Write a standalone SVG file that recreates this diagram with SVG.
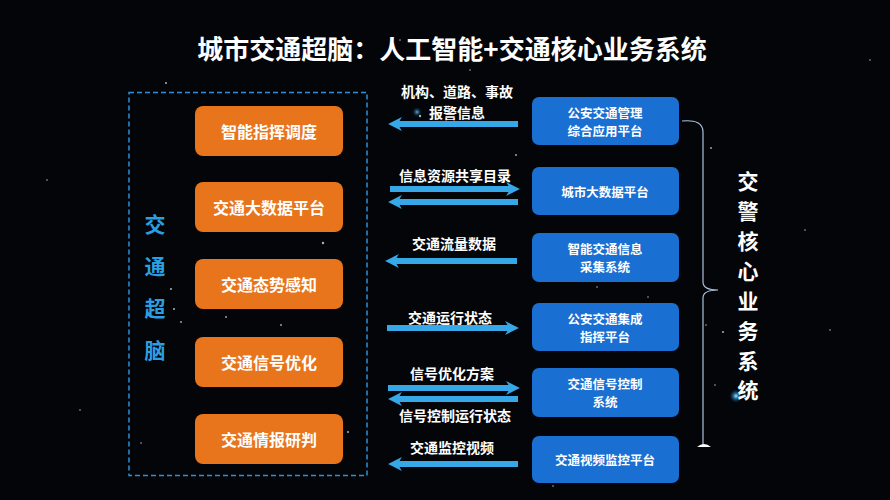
<svg xmlns="http://www.w3.org/2000/svg" width="890" height="500" viewBox="0 0 890 500">
<defs>
<style>
.cn{font-family:"Noto Sans CJK SC","Noto Sans",sans-serif;font-weight:bold;}
.ob rect{fill:#e8741c;}
.ob text{fill:#ffffff;font-size:16px;text-anchor:middle;dominant-baseline:central;}
.bb rect{fill:#1a6fd2;}
.bb text{fill:#ffffff;font-size:12.5px;text-anchor:middle;dominant-baseline:central;}
.lbl{fill:#ffffff;font-size:14px;text-anchor:middle;dominant-baseline:central;}
.arr{stroke:#36a8e8;stroke-width:6;fill:none;}
.star{fill:#9fb4cc;}
</style>
<marker id="ah" viewBox="0 0 10 10" refX="5" refY="5" markerWidth="2.3" markerHeight="2.3" orient="auto-start-reverse" markerUnits="strokeWidth">
<path d="M0,0 L10,5 L0,10 L3,5 z" fill="#36a8e8"/>
</marker>
<radialGradient id="glow" cx="0.5" cy="0.5" r="0.5">
<stop offset="0" stop-color="#bfe8ff"/>
<stop offset="0.35" stop-color="#3aa0e0" stop-opacity="0.7"/>
<stop offset="1" stop-color="#0a2a50" stop-opacity="0"/>
</radialGradient>
</defs>
<rect width="890" height="500" fill="#030508"/>
<g id="stars">
<circle class="star" cx="166" cy="83" r="1"/><circle class="star" cx="400" cy="40" r="0.8"/>
<circle class="star" cx="420" cy="116" r="1.2"/><circle class="star" cx="335" cy="153" r="1"/>
<circle class="star" cx="323" cy="243" r="1.2"/><circle class="star" cx="171" cy="289" r="1"/>
<circle class="star" cx="174" cy="309" r="1"/><circle class="star" cx="181" cy="322" r="0.9"/>
<circle class="star" cx="226" cy="317" r="0.9"/><circle class="star" cx="281" cy="325" r="0.9"/>
<circle class="star" cx="348" cy="432" r="1"/><circle class="star" cx="141" cy="443" r="0.8"/>
<circle class="star" cx="516" cy="155" r="0.9"/><circle class="star" cx="597" cy="287" r="0.8"/>
<circle class="star" cx="648" cy="297" r="0.8"/><circle class="star" cx="711" cy="148" r="0.9"/>
<circle class="star" cx="723" cy="332" r="1"/><circle class="star" cx="706" cy="325" r="0.8"/>
<circle class="star" cx="715" cy="385" r="0.8"/><circle class="star" cx="805" cy="230" r="0.8"/>
<circle class="star" cx="830" cy="330" r="0.8"/><circle class="star" cx="870" cy="60" r="0.8"/>
<circle class="star" cx="47" cy="180" r="0.8"/><circle class="star" cx="80" cy="410" r="0.8"/>
<circle class="star" cx="553" cy="486" r="0.8"/><circle class="star" cx="470" cy="70" r="0.8"/>
<circle cx="736" cy="396" r="7" fill="url(#glow)"/>
<circle cx="417" cy="112" r="5" fill="url(#glow)" opacity="0.7"/>
</g>
<text id="title" class="cn" x="452" y="47" font-size="26" fill="#ffffff" text-anchor="middle" dominant-baseline="central">城市交通超脑：人工智能+交通核心业务系统</text>
<g id="brain-group">
<rect x="129" y="92.5" width="238" height="383" fill="none" stroke="#2d8fd6" stroke-width="1.5" stroke-dasharray="5,3"/>
<g class="cn" fill="#2c9ee3" font-size="21" text-anchor="middle" dominant-baseline="central">
<text x="155" y="223">交</text><text x="155" y="265">通</text><text x="155" y="307">超</text><text x="155" y="349">脑</text>
</g>
</g>
<g id="o1" class="ob cn"><rect x="195" y="106" width="148" height="50" rx="8"/><text x="269" y="131">智能指挥调度</text></g>
<g id="o2" class="ob cn"><rect x="195" y="182" width="148" height="50" rx="8"/><text x="269" y="207">交通大数据平台</text></g>
<g id="o3" class="ob cn"><rect x="195" y="259" width="148" height="50" rx="8"/><text x="269" y="284">交通态势感知</text></g>
<g id="o4" class="ob cn"><rect x="195" y="337" width="148" height="50" rx="8"/><text x="269" y="362">交通信号优化</text></g>
<g id="o5" class="ob cn"><rect x="195" y="414" width="148" height="50" rx="8"/><text x="269" y="439">交通情报研判</text></g>
<g id="b1" class="bb cn"><rect x="532" y="97" width="147" height="48" rx="7"/><text x="605" y="112">公安交通管理</text><text x="605" y="130.5">综合应用平台</text></g>
<g id="b2" class="bb cn"><rect x="532" y="167" width="147" height="48" rx="7"/><text x="605" y="191">城市大数据平台</text></g>
<g id="b3" class="bb cn"><rect x="532" y="233" width="147" height="49" rx="7"/><text x="605" y="248">智能交通信息</text><text x="605" y="266.5">采集系统</text></g>
<g id="b4" class="bb cn"><rect x="532" y="303" width="147" height="48" rx="7"/><text x="605" y="318">公安交通集成</text><text x="605" y="336.5">指挥平台</text></g>
<g id="b5" class="bb cn"><rect x="532" y="368" width="147" height="49" rx="7"/><text x="605" y="383">交通信号控制</text><text x="605" y="401.5">系统</text></g>
<g id="b6" class="bb cn"><rect x="532" y="436" width="147" height="47" rx="7"/><text x="605" y="459">交通视频监控平台</text></g>
<g id="connectors">
<line class="arr" x1="518" y1="124" x2="395" y2="124" marker-end="url(#ah)"/>
<line class="arr" x1="390" y1="189" x2="513" y2="189" marker-end="url(#ah)"/>
<line class="arr" x1="518" y1="202" x2="395" y2="202" marker-end="url(#ah)"/>
<line class="arr" x1="517" y1="261" x2="392" y2="261" marker-end="url(#ah)"/>
<line class="arr" x1="387" y1="328" x2="512" y2="328" marker-end="url(#ah)"/>
<line class="arr" x1="388" y1="388" x2="513" y2="388" marker-end="url(#ah)"/>
<line class="arr" x1="518" y1="399" x2="395" y2="399" marker-end="url(#ah)"/>
<line class="arr" x1="518" y1="464" x2="395" y2="464" marker-end="url(#ah)"/>
<g class="cn">
<text class="lbl" x="457" y="91">机构、道路、事故</text>
<text class="lbl" x="457" y="111.5">报警信息</text>
<text class="lbl" x="455" y="175">信息资源共享目录</text>
<text class="lbl" x="454" y="243">交通流量数据</text>
<text class="lbl" x="450" y="317">交通运行状态</text>
<text class="lbl" x="452" y="373">信号优化方案</text>
<text class="lbl" x="455" y="415">信号控制运行状态</text>
<text class="lbl" x="452" y="447">交通监控视频</text>
</g>
<path d="M682,121 Q703,119 703,132 L703,282 Q703,290 718,290 Q703,290 703,298 L703,445" fill="none" stroke="#a9c2dc" stroke-width="1.2"/>
<path d="M697,447 Q704,441 711,447 Z" fill="#ffffff"/>
</g>
<g id="core-label" class="cn" fill="#ffffff" font-size="21" text-anchor="middle" dominant-baseline="central">
<text x="748" y="180">交</text><text x="748" y="210">警</text><text x="748" y="240">核</text><text x="748" y="270">心</text>
<text x="748" y="300">业</text><text x="748" y="330">务</text><text x="748" y="360">系</text><text x="748" y="389">统</text>
</g>
</svg>
